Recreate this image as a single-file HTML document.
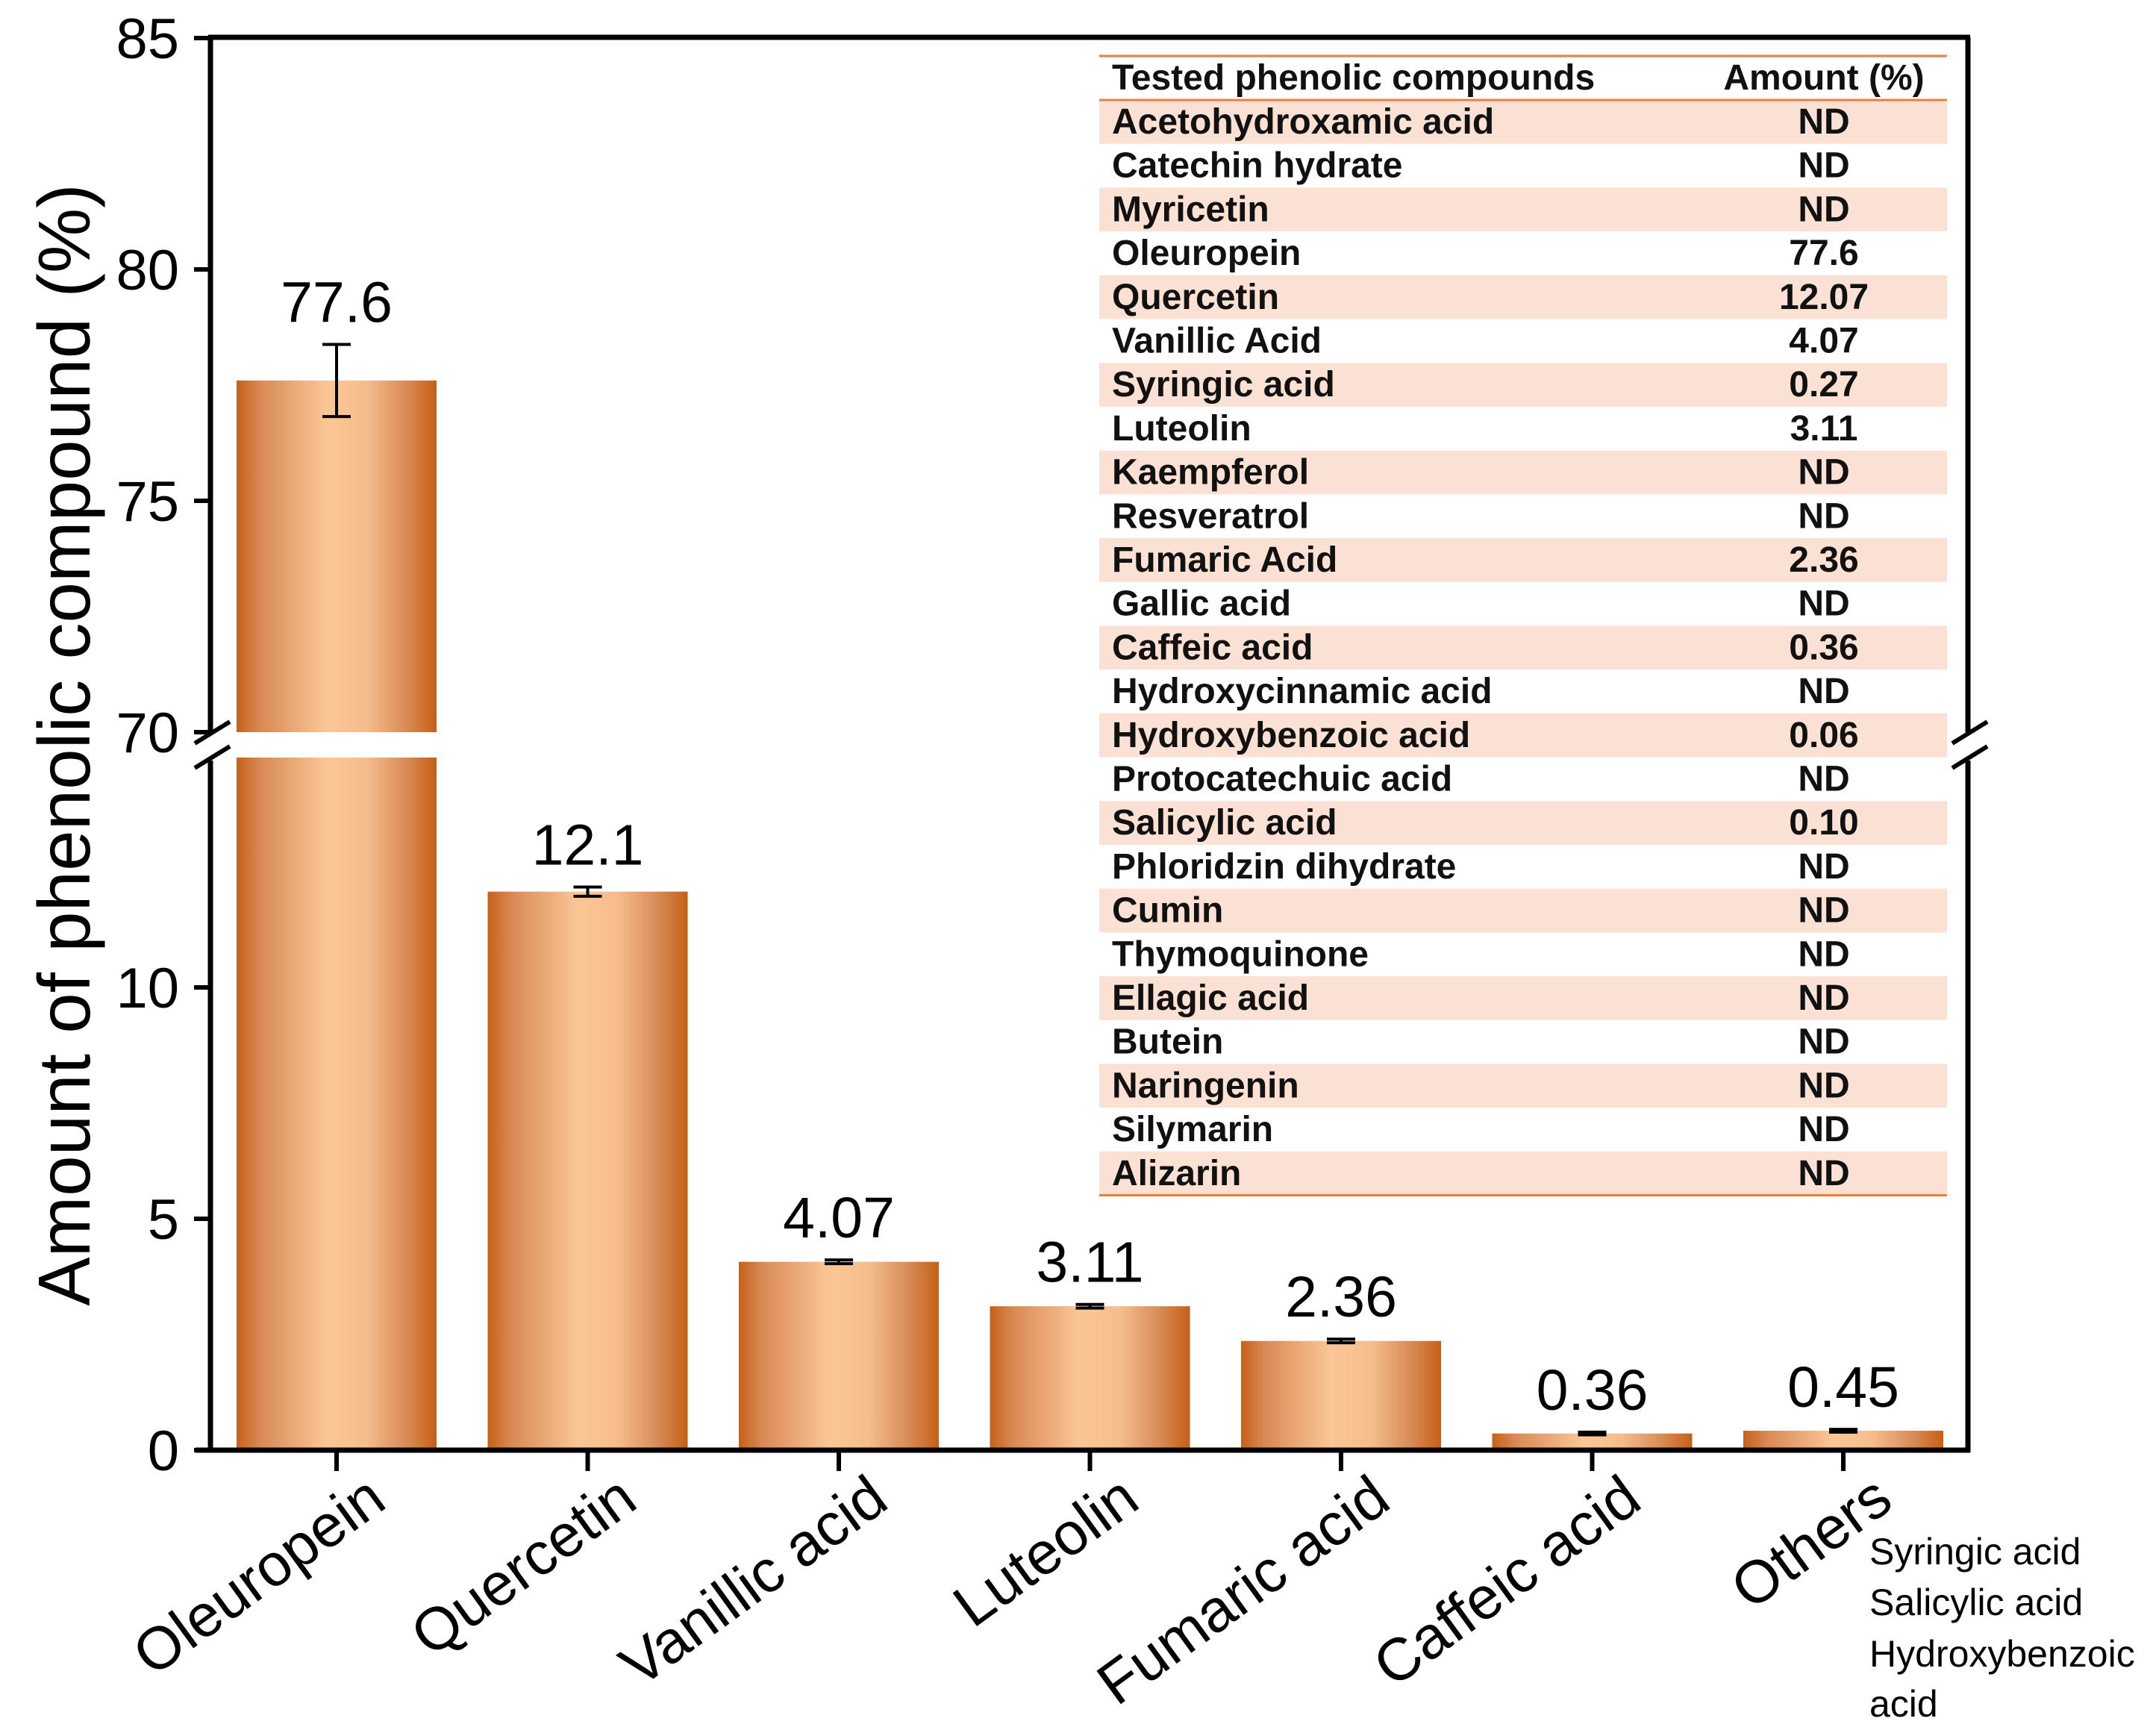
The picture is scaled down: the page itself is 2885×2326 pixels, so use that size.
<!DOCTYPE html>
<html><head><meta charset="utf-8"><style>
html,body{margin:0;padding:0;background:#fff;}
svg{display:block;font-family:"Liberation Sans",Arial,sans-serif;}
</style></head><body>
<svg id="chart" width="2885" height="2326" viewBox="0 0 2885 2326" xmlns="http://www.w3.org/2000/svg">
<defs>
<linearGradient id="barGrad" x1="0" x2="1" y1="0" y2="0">
<stop offset="0" stop-color="#c6611a"/>
<stop offset="0.12" stop-color="#d98a55"/>
<stop offset="0.45" stop-color="#fbc696"/>
<stop offset="0.65" stop-color="#f5bd8c"/>
<stop offset="0.85" stop-color="#d88b56"/>
<stop offset="1" stop-color="#c65f16"/>
</linearGradient>
</defs>
<g id="table"></g>
<g id="bars"></g>
<g id="axes"></g>
<text x="0" y="0" transform="translate(120,998) rotate(-90)" text-anchor="middle" font-size="98" fill="#000">Amount of phenolic compound (%)</text>
<g font-size="50" fill="#000">
<text x="2505" y="2096">Syringic acid</text>
<text x="2505" y="2164">Salicylic acid</text>
<text x="2505" y="2233">Hydroxybenzoic</text>
<text x="2505" y="2300">acid</text>
</g>
</svg>
<script>
const categories = ["Oleuropein","Quercetin","Vanillic acid","Luteolin","Fumaric acid","Caffeic acid","Others"];
const values = [77.6, 12.07, 4.07, 3.11, 2.36, 0.36, 0.42];
const errors = [0.78, 0.1, 0.04, 0.04, 0.04, 0.03, 0.03];
const valueLabels = ["77.6","12.1","4.07","3.11","2.36","0.36","0.45"];
const lowerTicks = [0, 5, 10];
const upperTicks = [70, 75, 80, 85];
const tableNames = ["Acetohydroxamic acid","Catechin hydrate","Myricetin","Oleuropein","Quercetin","Vanillic Acid","Syringic acid","Luteolin","Kaempferol","Resveratrol","Fumaric Acid","Gallic acid","Caffeic acid","Hydroxycinnamic acid","Hydroxybenzoic acid","Protocatechuic acid","Salicylic acid","Phloridzin dihydrate","Cumin","Thymoquinone","Ellagic acid","Butein","Naringenin","Silymarin","Alizarin"];
const tableAmounts = ["ND","ND","ND","77.6","12.07","4.07","0.27","3.11","ND","ND","2.36","ND","0.36","ND","0.06","ND","0.10","ND","ND","ND","ND","ND","ND","ND","ND"];

const NS = "http://www.w3.org/2000/svg";
const X0 = 282, X1 = 2637, BASE = 1943, PX = 62, BREAK_LO = 15, BREAK_HI = 70, UP70 = 981;
const firstCenter = 451, step = 336.5, barW = 268;
function y(v){ return v <= BREAK_LO ? BASE - PX*v : UP70 - PX*(v - BREAK_HI); }
function x(i){ return firstCenter + step*i; }
function mk(tag, attrs, parent){ const e = document.createElementNS(NS, tag); for (const k in attrs) e.setAttribute(k, attrs[k]); parent.appendChild(e); return e; }

const bars = document.getElementById('bars');
const axes = document.getElementById('axes');
const table = document.getElementById('table');

const tx = 1473, tw = 1136, rowTop = 134, rowH = 58.7;
tableNames.forEach((n, i) => {
  const ry = rowTop + i*rowH;
  if (i % 2 === 0) {
    const r = mk('rect', {x: tx, y: ry, width: tw, height: rowH, fill: '#fbe1d4'}, table);
    
    
  }
  const t = mk('text', {x: 1490, y: ry + 45, 'font-size': 48, 'font-weight': 'bold', fill: '#111'}, table);
  t.textContent = n;
  
  
  const a = mk('text', {x: 2444, y: ry + 45, 'font-size': 48, 'font-weight': 'bold', fill: '#111', 'text-anchor': 'middle'}, table);
  a.textContent = tableAmounts[i];
  
  
});
const h1 = mk('text', {x: 1490, y: 120, 'font-size': 48, 'font-weight': 'bold', fill: '#111'}, table);
h1.textContent = 'Tested phenolic compounds';


const h2 = mk('text', {x: 2444, y: 120, 'font-size': 48, 'font-weight': 'bold', fill: '#111', 'text-anchor': 'middle'}, table);
h2.textContent = 'Amount (%)';


[75, 134, rowTop + tableNames.length*rowH].forEach(ly => {
  const l = mk('line', {x1: tx, x2: tx + tw, y1: ly, y2: ly, stroke: '#ee7d3a', 'stroke-width': 3}, table);
  
  
});

values.forEach((v, i) => {
  const cx = x(i), left = cx - barW/2;
  if (v > BREAK_LO) {
    const b1 = mk('rect', {x: left, y: y(BREAK_LO) + 2, width: barW, height: BASE - y(BREAK_LO) - 2, fill: 'url(#barGrad)'}, bars);
    
    
    const b2 = mk('rect', {x: left, y: y(v), width: barW, height: y(BREAK_HI) - y(v), fill: 'url(#barGrad)'}, bars);
    
    
  } else {
    const b = mk('rect', {x: left, y: y(v), width: barW, height: BASE - y(v), fill: 'url(#barGrad)'}, bars);
    
    
  }
  const yt = y(v + errors[i]), yb = y(v - errors[i]);
  const g = mk('g', {stroke: '#000', 'stroke-width': 4}, bars);
  
  
  mk('line', {x1: cx, x2: cx, y1: yt, y2: yb}, g);
  mk('line', {x1: cx - 19, x2: cx + 19, y1: yt, y2: yt}, g);
  mk('line', {x1: cx - 19, x2: cx + 19, y1: yb, y2: yb}, g);
  const lb = mk('text', {x: cx, y: yt - 30, 'font-size': 77, 'text-anchor': 'middle', fill: '#000'}, bars);
  lb.textContent = valueLabels[i];
  
  
  const tk = mk('line', {x1: cx, x2: cx, y1: BASE, y2: BASE + 28, stroke: '#000', 'stroke-width': 6}, axes);
  
  
  const xl = mk('text', {x: 0, y: 0, transform: 'translate(' + (cx + 70) + ',2018) rotate(-36)', 'font-size': 80, 'text-anchor': 'end', fill: '#000'}, axes);
  xl.textContent = categories[i];
  
  
});

const ax = [
  [X0, UP70, X0, 50], [X0, y(BREAK_LO) + 6, X0, BASE + 3],
  [X1, UP70, X1, 50], [X1, y(BREAK_LO) + 6, X1, BASE + 3],
  [X0 - 3, 50, X1 + 3, 50], [262, BASE, X1 + 3, BASE]
];
ax.forEach(s => {
  const l = mk('line', {x1: s[0], y1: s[1], x2: s[2], y2: s[3], stroke: '#000', 'stroke-width': 7}, axes);
  
  
});
[X0, X1].forEach(bx => {
  [[996, 967], [1029, 1000]].forEach(p => {
    const l = mk('line', {x1: bx - 21, y1: p[0], x2: bx + 26, y2: p[1], stroke: '#000', 'stroke-width': 6}, axes);
    
    
  });
});
lowerTicks.concat(upperTicks).forEach(t => {
  const ty = y(t);
  const l = mk('line', {x1: 260, x2: X0, y1: ty, y2: ty, stroke: '#000', 'stroke-width': 6}, axes);
  
  
  const tl = mk('text', {x: 240, y: ty + 27, 'font-size': 76, 'text-anchor': 'end', fill: '#000'}, axes);
  tl.textContent = t;
  
  
});
</script>
</body></html>
